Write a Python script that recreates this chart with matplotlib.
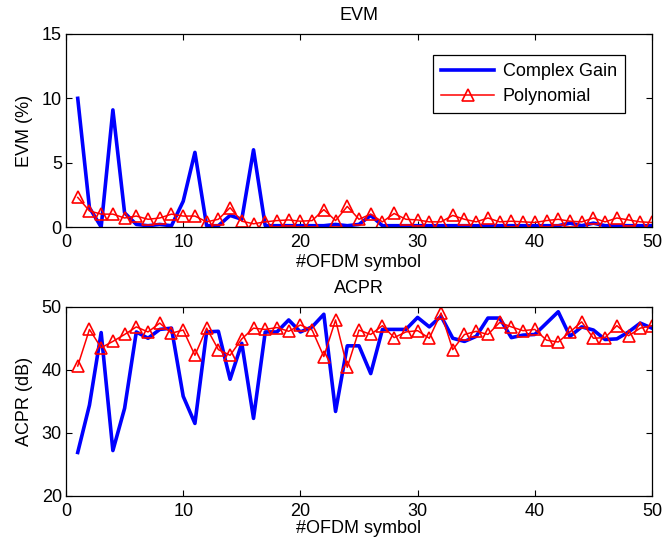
import matplotlib
matplotlib.use("Agg")
import matplotlib.pyplot as plt
import numpy as np

plt.rcParams['font.family'] = ['Liberation Sans', 'DejaVu Sans']

symbols = list(range(1, 51))

evm_complex_gain = [10.0, 1.5, 0.0, 9.1, 1.1, 0.2, 0.1, 0.2, 0.1, 2.0,
                    5.8, 0.1, 0.1, 0.9, 0.6, 6.0, 0.1, 0.1, 0.1, 0.1,
                    0.1, 0.1, 0.2, 0.1, 0.2, 0.9, 0.1, 0.1, 0.1, 0.1,
                    0.1, 0.1, 0.1, 0.1, 0.1, 0.1, 0.1, 0.1, 0.1, 0.1,
                    0.1, 0.1, 0.3, 0.1, 0.3, 0.1, 0.1, 0.1, 0.1, 0.1]
evm_polynomial = [2.3, 1.25, 1.0, 1.0, 0.7, 0.85, 0.6, 0.7, 1.0, 0.85,
                  0.85, 0.4, 0.6, 1.5, 0.45, 0.25, 0.4, 0.5, 0.55, 0.45,
                  0.5, 1.35, 0.5, 1.6, 0.6, 1.0, 0.4, 1.05, 0.6, 0.55,
                  0.4, 0.4, 0.9, 0.6, 0.4, 0.7, 0.4, 0.45, 0.4, 0.35,
                  0.5, 0.6, 0.45, 0.4, 0.7, 0.4, 0.7, 0.55, 0.4, 0.35]

acpr_complex_gain = [26.9, 34.4, 45.9, 27.2, 33.9, 46.0, 45.0, 46.4, 46.6, 35.8,
                     31.5, 46.0, 46.1, 38.5, 44.2, 32.3, 46.0, 46.0, 47.9, 46.0,
                     46.8, 48.8, 33.4, 43.8, 43.8, 39.4, 46.4, 46.4, 46.4, 48.3,
                     46.8, 48.5, 45.0, 44.5, 45.3, 48.2, 48.2, 45.1, 45.5, 45.6,
                     47.4, 49.2, 45.3, 46.8, 46.3, 44.8, 44.9, 46.0, 47.4, 46.6]
acpr_polynomial = [40.6, 46.4, 43.5, 44.5, 45.6, 46.8, 46.0, 47.4, 45.8, 46.3,
                   42.3, 46.6, 43.2, 42.3, 44.9, 46.6, 46.4, 46.7, 46.1, 47.1,
                   46.3, 42.1, 47.9, 40.4, 46.3, 45.6, 47.0, 45.1, 46.0, 46.2,
                   45.0, 49.0, 43.2, 45.6, 46.1, 45.6, 47.5, 46.8, 46.2, 46.4,
                   44.7, 44.4, 46.0, 47.6, 45.0, 45.1, 47.0, 45.4, 46.6, 47.0]

x_ticks = [0, 10, 20, 30, 40, 50]
evm_ticks = [0, 5, 10, 15]
acpr_ticks = [20, 30, 40, 50]

fig = plt.figure(figsize=(6.65, 5.48), dpi=100)
ax1 = fig.add_axes([66/665, 1-227/548, 586/665, 193/548])
ax2 = fig.add_axes([66/665, 1-496/548, 586/665, 189.3/548])

fs = 13

def style(ax):
    ax.tick_params(direction='in', top=True, right=True, labelsize=fs, length=4, width=0.8)
    ax.tick_params(axis='x', pad=5)
    ax.tick_params(axis='y', pad=3)
    for s in ax.spines.values():
        s.set_linewidth(0.9)

ax1.plot(symbols, evm_complex_gain, color='#0000ff', lw=2.6, label='Complex Gain')
ax1.plot(symbols, evm_polynomial, color='#ff0000', lw=1.1, marker='^', ms=9,
         mfc='none', mec='#ff0000', mew=1.2, label='Polynomial')
ax1.set_xlim(0, 50)
ax1.set_ylim(0, 15)
ax1.set_xticks(x_ticks)
ax1.set_yticks(evm_ticks)
ax1.set_title('EVM', fontsize=fs, pad=10)
ax1.set_xlabel('#OFDM symbol', fontsize=fs, labelpad=2)
ax1.set_ylabel('EVM (%)', fontsize=fs, labelpad=6)
style(ax1)
leg = ax1.legend(loc='upper right', bbox_to_anchor=(0.954, 0.891), borderaxespad=0,
                 fontsize=fs, frameon=True, fancybox=False, edgecolor='black', framealpha=1,
                 handlelength=2.9, borderpad=0.45, labelspacing=0.45, handletextpad=0.5)
leg.get_frame().set_linewidth(0.9)

ax2.plot(symbols, acpr_complex_gain, color='#0000ff', lw=2.6)
ax2.plot(symbols, acpr_polynomial, color='#ff0000', lw=1.1, marker='^', ms=9,
         mfc='none', mec='#ff0000', mew=1.2)
ax2.set_xlim(0, 50)
ax2.set_ylim(20, 50)
ax2.set_xticks(x_ticks)
ax2.set_yticks(acpr_ticks)
ax2.set_title('ACPR', fontsize=fs, pad=10)
ax2.set_xlabel('#OFDM symbol', fontsize=fs, labelpad=0)
ax2.set_ylabel('ACPR (dB)', fontsize=fs, labelpad=6)
style(ax2)

fig.savefig('out.png', dpi=100)
